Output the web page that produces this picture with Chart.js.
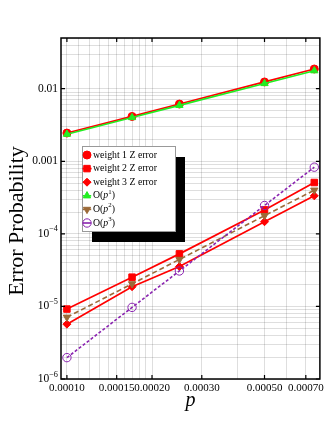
<!DOCTYPE html>
<html><head><meta charset="utf-8">
<script src="https://cdn.jsdelivr.net/npm/chart.js@4.4.0/dist/chart.umd.min.js"></script>
<style>html,body{margin:0;padding:0;background:#fff;}#wrap{width:327px;height:424px;position:relative;}</style>
</head><body><div id="wrap"><canvas id="c" width="327" height="424"></canvas></div>
<script>
// ---- data ----
const pValues = [0.0001, 0.00017, 0.00025, 0.0005, 0.00075];
const weight1 = [0.00245, 0.00415, 0.00615, 0.0124, 0.0187];
const weight2 = [9.2e-6, 2.53e-5, 5.3e-5, 2.14e-4, 5.1e-4];
const weight3 = [5.7e-6, 1.87e-5, 3.54e-5, 1.47e-4, 3.34e-4];
const orderP1 = [0.00236, 0.00401, 0.0059, 0.0118, 0.0177];
const orderP2 = [7.1e-6, 2.05e-5, 4.44e-5, 1.78e-4, 4.0e-4];
const orderP3 = [1.97e-6, 9.7e-6, 3.08e-5, 2.46e-4, 8.3e-4];

const xTickValues = [0.0001, 0.00015, 0.0002, 0.0003, 0.0005, 0.0007];
const xTickLabels = ['0.00010', '0.00015', '0.00020', '0.00030', '0.00050', '0.00070'];
const yTickValues = [1e-6, 1e-5, 1e-4, 1e-3, 1e-2];
const yTickLabels = ['10^−6', '10^−5', '10^−4', '0.001', '0.01'];

const seriesNames = ['weight 1 Z error', 'weight 2 Z error', 'weight 3 Z error', 'O(p^1)', 'O(p^2)', 'O(p^3)'];

const X_MIN = 0.0000953, X_MAX = 0.000785, Y_MIN = 1e-6, Y_MAX = 0.05;

const SERIF = '"Liberation Serif","Times New Roman","DejaVu Serif",serif';

// grid values (minor log grid)
const xGrid = [];
for (let k = 10; k <= 20; k++) xGrid.push(k * 1e-5);
for (let k = 3; k <= 7; k++) xGrid.push(k * 1e-4);
const yGrid = [];
for (let e = -6; e <= -2; e++) for (let m = 1; m <= 9; m++) { const v = m * Math.pow(10, e); if (v <= Y_MAX * 1.0001) yGrid.push(v); }

const near = (a, b) => Math.abs(a - b) / b < 1e-6;

const styles = [
  {color: '#ff0000', point: 'circle', r: 4, fill: '#ff0000', dash: [], rot: 0, lw: 1.7},
  {color: '#ff0000', point: 'rect', r: 4.6, fill: '#ff0000', dash: [], rot: 0, lw: 1.7},
  {color: '#ff0000', point: 'rectRot', r: 4, fill: '#ff0000', dash: [], rot: 0, lw: 1.7},
  {color: '#22ee22', point: 'triangle', r: 4.2, fill: '#22ee22', dash: [], rot: 0, lw: 1.6},
  {color: '#9c6a38', point: 'triangle', r: 4.2, fill: '#9c6a38', dash: [5, 3], rot: 180, lw: 1.6},
  {color: '#8a24b0', point: 'circle', r: 4.2, fill: 'rgba(0,0,0,0)', dash: [3, 2], rot: 0, lw: 1.6}
];
const seriesData = [weight1, weight2, weight3, orderP1, orderP2, orderP3];

const datasets = seriesData.map((arr, i) => ({
  label: seriesNames[i],
  data: arr.map((v, j) => ({x: pValues[j], y: v})),
  borderColor: styles[i].color,
  backgroundColor: styles[i].fill,
  borderWidth: styles[i].lw,
  borderDash: styles[i].dash,
  pointStyle: styles[i].point,
  pointRadius: styles[i].r,
  pointRotation: styles[i].rot,
  pointBackgroundColor: styles[i].fill,
  pointBorderColor: styles[i].color,
  pointBorderWidth: 1,
  tension: 0,
  fill: false,
  order: -i
}));

function drawMarker(ctx, st, x, y) {
  ctx.save();
  ctx.fillStyle = st.fill; ctx.strokeStyle = st.color; ctx.lineWidth = 1;
  ctx.beginPath();
  const r = st.r;
  if (st.point === 'circle') { ctx.arc(x, y, r, 0, Math.PI * 2); }
  else if (st.point === 'rect') { const s = r * Math.SQRT1_2; ctx.rect(x - s, y - s, 2 * s, 2 * s); }
  else if (st.point === 'rectRot') { ctx.moveTo(x - r, y); ctx.lineTo(x, y - r); ctx.lineTo(x + r, y); ctx.lineTo(x, y + r); ctx.closePath(); }
  else if (st.point === 'triangle') {
    const rot = st.rot * Math.PI / 180;
    for (let k = 0; k < 3; k++) {
      const a = rot - Math.PI / 2 + k * 2 * Math.PI / 3;
      const px = x + Math.cos(a) * r, py = y + Math.sin(a) * r;
      if (k === 0) ctx.moveTo(px, py); else ctx.lineTo(px, py);
    }
    ctx.closePath();
  }
  ctx.fill(); ctx.stroke();
  ctx.restore();
}

function drawRich(ctx, text, x, y, size, align) {
  const parts = [];
  const m = text.match(/^(.*?)\^(.*)$/);
  if (m) {
    let base = m[1], sup = m[2];
    if (base.startsWith('O(p')) {
      parts.push({t: 'O(', f: `${size}px ${SERIF}`, dy: 0});
      parts.push({t: 'p', f: `italic ${size}px ${SERIF}`, dy: 0});
      parts.push({t: sup.replace(')', ''), f: `${size * 0.7}px ${SERIF}`, dy: -size * 0.38});
      parts.push({t: ')', f: `${size}px ${SERIF}`, dy: 0});
    } else {
      parts.push({t: base, f: `${size}px ${SERIF}`, dy: 0});
      parts.push({t: sup, f: `${size * 0.72}px ${SERIF}`, dy: -size * 0.4});
    }
  } else parts.push({t: text, f: `${size}px ${SERIF}`, dy: 0});
  let total = 0;
  parts.forEach(p => { ctx.font = p.f; p.w = ctx.measureText(p.t).width; total += p.w; });
  let cx = align === 'right' ? x - total : x;
  ctx.textAlign = 'left';
  parts.forEach(p => { ctx.font = p.f; ctx.fillText(p.t, cx, y + p.dy); cx += p.w; });
}

const framePlugin = {
  id: 'frame',
  afterDraw(chart) {
    const ctx = chart.ctx, a = chart.chartArea;
    const xs = chart.scales.x, ys = chart.scales.y;
    ctx.save();
    ctx.strokeStyle = '#000'; ctx.lineWidth = 1.5;
    ctx.strokeRect(a.left, a.top, a.right - a.left, a.bottom - a.top);
    ctx.lineWidth = 1.2;
    ctx.beginPath();
    xTickValues.forEach(v => {
      const px = xs.getPixelForValue(v);
      ctx.moveTo(px, a.bottom); ctx.lineTo(px, a.bottom - 4);
      ctx.moveTo(px, a.top); ctx.lineTo(px, a.top + 4);
    });
    yTickValues.forEach(v => {
      const py = ys.getPixelForValue(v);
      ctx.moveTo(a.left, py); ctx.lineTo(a.left + 4, py);
      ctx.moveTo(a.right, py); ctx.lineTo(a.right - 4, py);
    });
    ctx.stroke();
    ctx.fillStyle = '#000'; ctx.textBaseline = 'middle';
    yTickValues.forEach((v, i) => {
      const py = ys.getPixelForValue(v);
      drawRich(ctx, yTickLabels[i], a.left - 3, py, 11.5, 'right');
    });
    ctx.textBaseline = 'alphabetic';
    ctx.save();
    ctx.translate(23, 221);
    ctx.rotate(-Math.PI / 2);
    ctx.font = `22px ${SERIF}`; ctx.textAlign = 'center';
    ctx.fillText('Error Probability', 0, 0);
    ctx.restore();
    ctx.font = `italic 20px ${SERIF}`; ctx.textAlign = 'center';
    ctx.fillText('p', (a.left + a.right) / 2, 406);
    const lx = a.left + 21, ly = a.top + 108, lw = 93, lh = 85;
    ctx.fillStyle = '#000'; ctx.fillRect(lx + 10, ly + 11, lw, lh);
    ctx.fillStyle = '#fff'; ctx.fillRect(lx, ly, lw, lh);
    ctx.strokeStyle = '#999'; ctx.lineWidth = 1; ctx.strokeRect(lx + 0.5, ly + 0.5, lw, lh);
    ctx.textBaseline = 'middle';
    seriesNames.forEach((name, i) => {
      const yy = ly + 9 + i * 13.6;
      const st = styles[i];
      const mx = lx + 5;
      ctx.save();
      ctx.strokeStyle = st.color; ctx.lineWidth = st.lw; ctx.setLineDash([]);
      ctx.beginPath(); ctx.moveTo(mx - st.r, yy); ctx.lineTo(mx + st.r, yy); ctx.stroke();
      ctx.restore();
      drawMarker(ctx, st, mx, yy);
      ctx.fillStyle = '#000';
      drawRich(ctx, name, lx + 11, yy, 9.8, 'left');
    });
    ctx.restore();
  }
};

new Chart(document.getElementById('c'), {
  type: 'line',
  data: {datasets},
  options: {
    responsive: false, animation: false, devicePixelRatio: 1,
    layout: {padding: {top: 38, right: 4, left: 0, bottom: 0}},
    plugins: {legend: {display: false}, tooltip: {enabled: false}},
    scales: {
      x: {
        type: 'logarithmic', min: X_MIN, max: X_MAX,
        afterBuildTicks: s => { s.ticks = xGrid.map(v => ({value: v})); },
        afterFit: s => { s.height = 45; },
        grid: {color: 'rgba(0,0,0,0.13)', lineWidth: 1, drawTicks: false},
        border: {display: false},
        ticks: {
          autoSkip: false, maxRotation: 0, minRotation: 0, padding: 3, color: '#000',
          font: {family: SERIF, size: 11},
          callback: (v) => { const i = xTickValues.findIndex(t => near(v, t)); return i >= 0 ? xTickLabels[i] : ''; }
        }
      },
      y: {
        type: 'logarithmic', min: Y_MIN, max: Y_MAX,
        afterBuildTicks: s => { s.ticks = yGrid.map(v => ({value: v})); },
        afterFit: s => { s.width = 61; },
        grid: {color: 'rgba(0,0,0,0.13)', lineWidth: 1, drawTicks: false},
        border: {display: false},
        ticks: {display: false}
      }
    }
  },
  plugins: [framePlugin]
});
</script>
</body></html>
